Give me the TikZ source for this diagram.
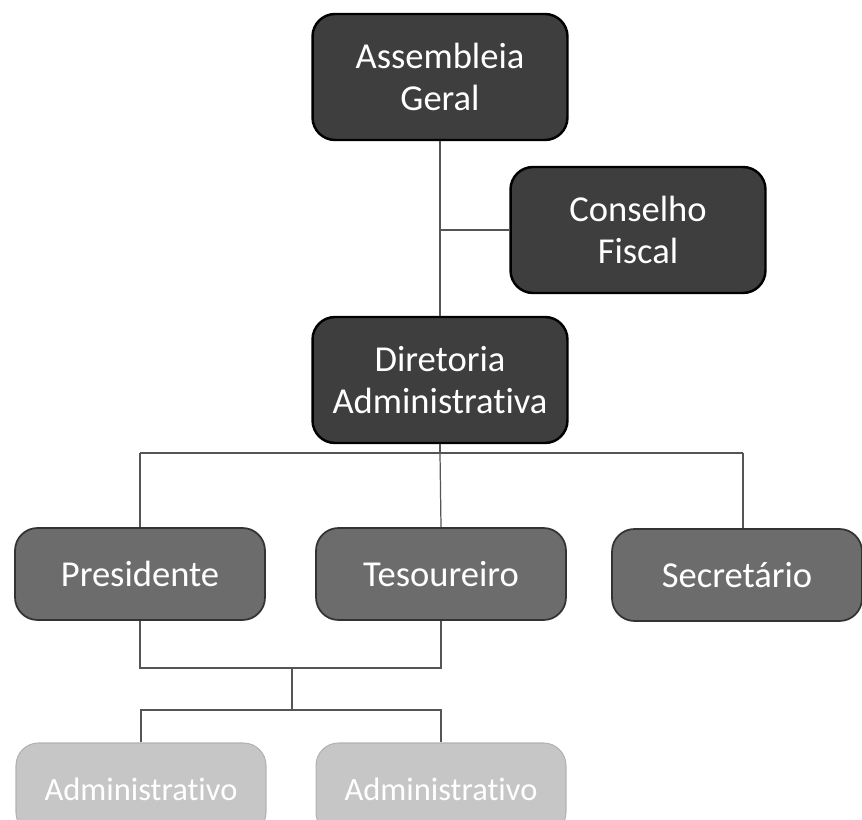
\documentclass[tikz,border=0pt]{standalone}
\usepackage{fontspec}
\setmainfont[Ligatures=NoCommon]{Carlito}
\definecolor{darkfill}{HTML}{3E3E3E}
\definecolor{midfill}{HTML}{6C6C6C}
\definecolor{lightfill}{HTML}{C6C6C6}
\definecolor{linkgray}{HTML}{555555}
\tikzset{
  orgbox/.style={rounded corners=0.45cm, align=center, text=white,
    font=\fontsize{20.8}{24}\selectfont, inner sep=0pt},
  darkbox/.style={orgbox, fill=darkfill, draw=black, line width=1.4pt,
    minimum width=5.1cm, minimum height=2.52cm},
  midbox/.style={orgbox, fill=midfill, draw=black!80, line width=1pt,
    minimum width=5cm, minimum height=1.84cm},
  lightbox/.style={orgbox, fill=lightfill, draw=lightfill!90!black, line width=0.6pt,
    minimum width=5cm, minimum height=1.84cm, font=\fontsize{18.5}{22}\selectfont},
  link/.style={draw=linkgray, line width=0.7pt}
}
\begin{document}
\begin{tikzpicture}[x=0.02cm,y=-0.02cm]
  \clip (0,0) rectangle (862,820);
  \useasboundingbox (0,0) rectangle (862,820);
  % boxes
  \node[darkbox] (AG) at (440,77) {Assembleia\\Geral};
  \node[darkbox] (CF) at (638,230) {Conselho\\Fiscal};
  \node[darkbox] (DA) at (440,380) {Diretoria\\Administrativa};
  \node[midbox] (PR) at (140,574) {Presidente};
  \node[midbox] (TE) at (441,574) {Tesoureiro};
  \node[midbox] (SE) at (737,575) {Secretário};
  \node[lightbox] (AD1) at (141,789) {Administrativo};
  \node[lightbox] (AD2) at (441,789) {Administrativo};
  % junctions
  \coordinate (J1) at (440,230);
  \coordinate (B0) at (440,453);
  \coordinate (BL) at (140,453);
  \coordinate (BR) at (743,453);
  \coordinate (P1) at (292,668);
  \coordinate (P2) at (292,710);
  % connectors
  \draw[link] (AG.south) -- (DA.north);
  \draw[link] (J1) -- (CF.west);
  \draw[link] (DA.south) -- (B0);
  \draw[link] (BL) -- (BR);
  \draw[link] (BL) -- (PR.north);
  \draw[link] (B0) -- (TE.north);
  \draw[link] (BR) -- (BR |- SE.north);
  \draw[link] (PR.south) |- (P1) -| (TE.south);
  \draw[link] (P1) -- (P2);
  \draw[link] (AD1.north) |- (P2) -| (AD2.north);
\end{tikzpicture}
\end{document}
